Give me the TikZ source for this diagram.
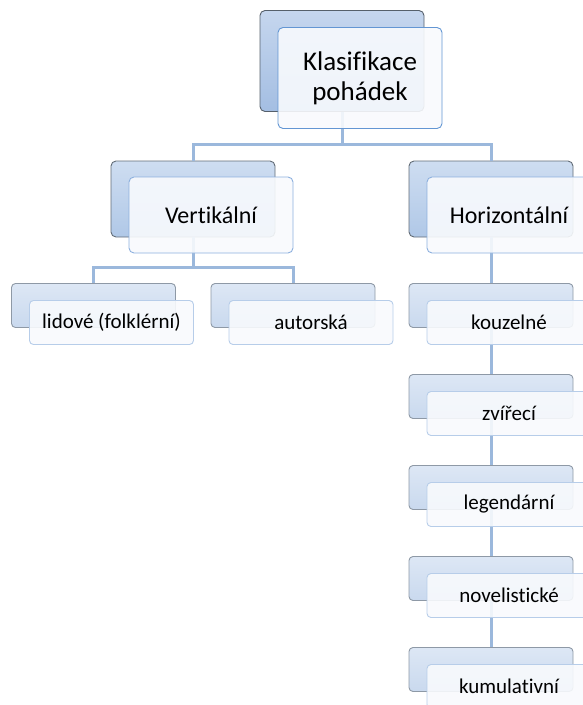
\documentclass[tikz,border=0pt]{standalone}
\usepackage{fontspec}
\setmainfont{Carlito}[RawFeature={-liga;-clig}]
\usetikzlibrary{positioning}
\definecolor{linkblue}{HTML}{9BB8DC}
\definecolor{frontfill}{HTML}{F8FAFD}
\tikzset{
	backbox/.style={rectangle,rounded corners=5pt,line width=0.9pt,inner sep=0pt},
	frontbox/.style={rectangle,rounded corners=5pt,line width=0.9pt,inner sep=0pt,
		fill=frontfill,fill opacity=0.9,text opacity=1,align=center,text=black},
	lvlone/.style={minimum width=164pt,minimum height=101pt,
		font=\fontsize{27}{30}\selectfont},
	lvltwo/.style={minimum width=164pt,minimum height=76pt,
		font=\fontsize{24}{28}\selectfont},
	lvlthree/.style={minimum width=164pt,minimum height=44pt,rounded corners=4pt,
		font=\fontsize{21}{24}\selectfont},
	backone/.style={backbox,lvlone,draw={rgb,255:red,86;green,96;blue,107},
		top color={rgb,255:red,197;green,214;blue,238},bottom color={rgb,255:red,164;green,190;blue,226}},
	backtwo/.style={backbox,lvltwo,draw={rgb,255:red,98;green,108;blue,118},
		top color={rgb,255:red,206;green,221;blue,241},bottom color={rgb,255:red,176;green,200;blue,231}},
	backthree/.style={backbox,lvlthree,draw={rgb,255:red,142;green,153;blue,166},
		top color={rgb,255:red,221;green,231;blue,245},bottom color={rgb,255:red,201;green,217;blue,238}},
	frontone/.style={frontbox,lvlone,draw={rgb,255:red,99;green,150;blue,211}},
	fronttwo/.style={frontbox,lvltwo,draw={rgb,255:red,141;green,176;blue,222}},
	frontthree/.style={frontbox,lvlthree,draw={rgb,255:red,183;green,205;blue,233}},
	link/.style={draw=linkblue,line width=3pt}
}
\begin{document}
\begin{tikzpicture}[x=1pt,y=-1pt]
	\useasboundingbox (0,0) rectangle (582,705);
	% zadni obdelniky
	\node[backone] (root) at (342,61) {};
	\node[backtwo] (vert) at (193,199) {};
	\node[backtwo] (horiz) at (491,199) {};
	\node[backthree] (lid) at (93.5,305.5) {};
	\node[backthree] (aut) at (293,305.5) {};
	\foreach \n/\y in {kouz/305.5,zvir/396.5,leg/487.5,nov/578.5,kum/669.5}
		\node[backthree] (\n) at (491,\y) {};
	% spojnice
	\draw[link] (root.south) -- ++(0,33) -| (vert.north);
	\draw[link] (root.south) -- ++(0,33) -| (horiz.north);
	\draw[link] (vert.south) -- ++(0,30) -| (lid.north);
	\draw[link] (vert.south) -- ++(0,30) -| (aut.north);
	\draw[link] (horiz.south) -- (kouz.north);
	\draw[link] (kouz.south) -- (zvir.north);
	\draw[link] (zvir.south) -- (leg.north);
	\draw[link] (leg.south) -- (nov.north);
	\draw[link] (nov.south) -- (kum.north);
	% predni obdelniky s textem
	\node[frontone] (rootf) at ([shift={(18,17)}]root.center) {Klasifikace\\pohádek};
	\node[fronttwo] (vertf) at ([shift={(18,16)}]vert.center) {Vertikální};
	\node[fronttwo] (horizf) at ([shift={(18,16)}]horiz.center) {Horizontální};
	\node[frontthree] (lidf) at ([shift={(18,17)}]lid.center) {lidové (folklérní)};
	\node[frontthree] (autf) at ([shift={(18,17)}]aut.center) {autorská};
	\node[frontthree] (kouzf) at ([shift={(18,17)}]kouz.center) {kouzelné};
	\node[frontthree] (zvirf) at ([shift={(18,17)}]zvir.center) {zvířecí};
	\node[frontthree] (legf) at ([shift={(18,17)}]leg.center) {legendární};
	\node[frontthree] (novf) at ([shift={(18,17)}]nov.center) {novelistické};
	\node[frontthree] (kumf) at ([shift={(18,17)}]kum.center) {kumulativní};
\end{tikzpicture}
\end{document}
